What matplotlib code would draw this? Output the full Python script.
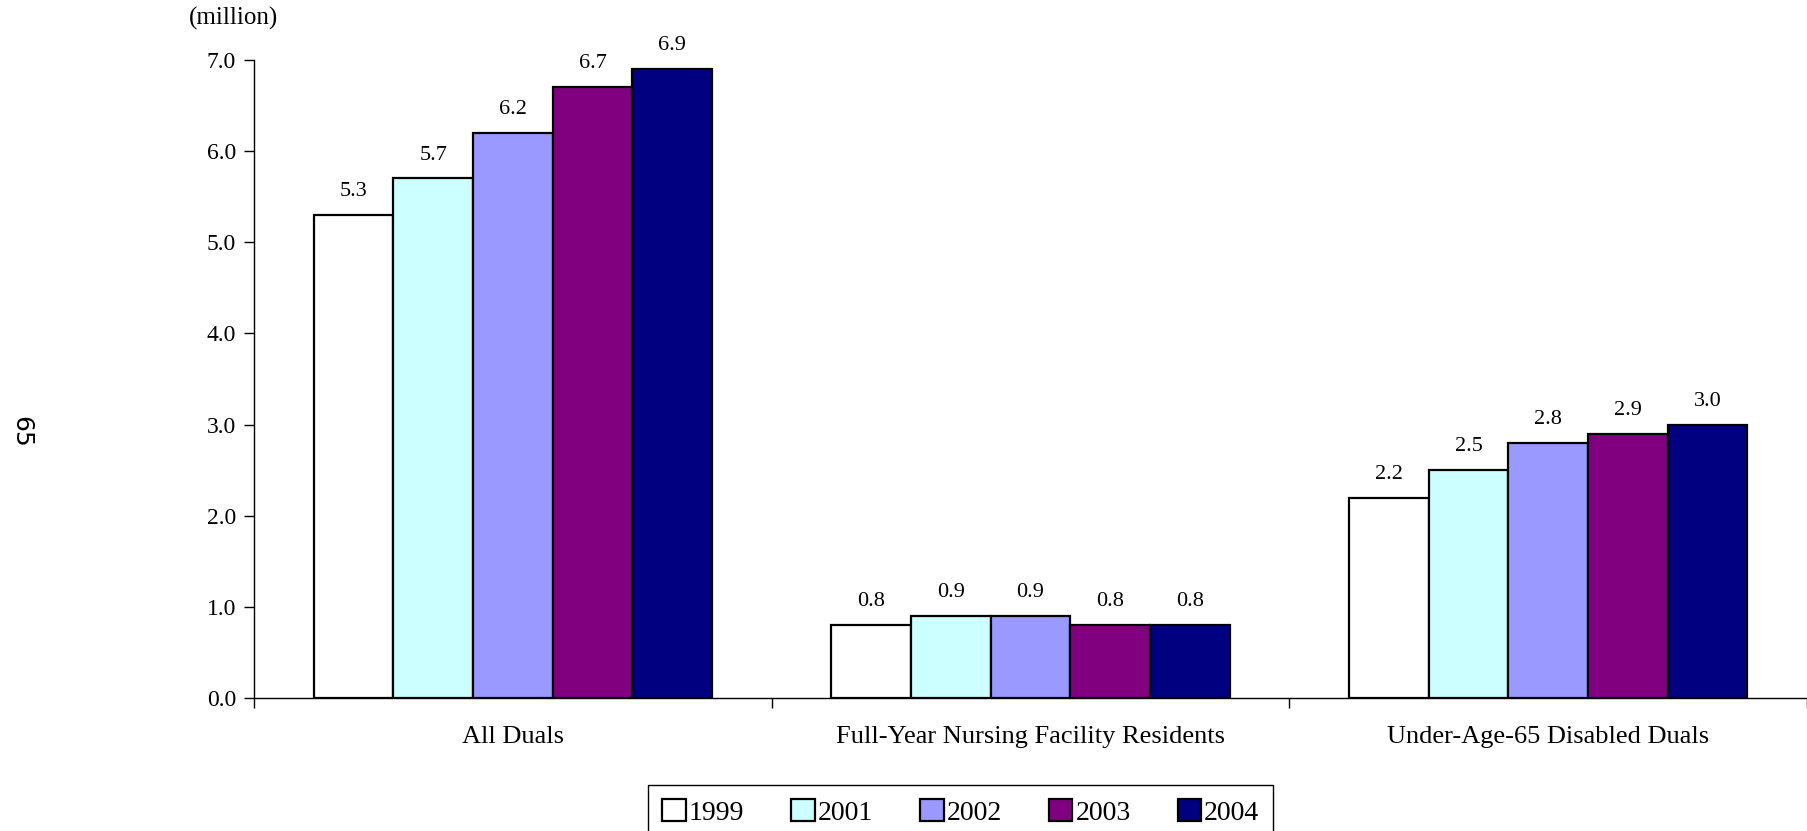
import matplotlib
matplotlib.use("Agg")
import matplotlib.pyplot as plt
import numpy as np

plt.rcParams['font.family'] = ['Liberation Serif', 'DejaVu Serif']

categories = ["All Duals", "Full-Year Nursing Facility Residents", "Under-Age-65 Disabled Duals"]
years = ["1999", "2001", "2002", "2003", "2004"]
values = {
    "1999": [5.3, 0.8, 2.2],
    "2001": [5.7, 0.9, 2.5],
    "2002": [6.2, 0.9, 2.8],
    "2003": [6.7, 0.8, 2.9],
    "2004": [6.9, 0.8, 3.0],
}
colors = ["#FFFFFF", "#CCFFFF", "#9999FF", "#800080", "#000080"]

fig = plt.figure(figsize=(18.07, 8.31), dpi=100)
ax = fig.add_axes([0.1406, 0.16, 0.8594, 0.7678])

x = np.arange(len(categories))
w = 0.154
for i, yr in enumerate(years):
    pos = x + (i - 2) * w
    bars = ax.bar(pos, values[yr], width=w, color=colors[i], edgecolor='black',
                  linewidth=1.6, label=yr)
    for b, v in zip(bars, values[yr]):
        ax.annotate(f"{v:.1f}", (b.get_x() + b.get_width() / 2, v),
                    xytext=(0, 10), textcoords='offset points',
                    ha='center', va='bottom', fontsize=16)

ax.set_xlim(-0.5, 2.5)
ax.set_ylim(0, 7)
ax.set_yticks(np.arange(0, 8, 1))
ax.set_yticklabels([f"{t:.1f}" for t in range(8)])
ax.set_xticks(x)
ax.set_xticklabels(categories)
ax.set_xticks([-0.5, 0.5, 1.5, 2.5], minor=True)
ax.tick_params(axis='x', which='major', length=0, pad=20, labelsize=19)
ax.tick_params(axis='x', which='minor', length=7, width=1)
ax.tick_params(axis='y', length=7, width=1, labelsize=17, pad=6)
for s in ['top', 'right']:
    ax.spines[s].set_visible(False)
ax.spines['left'].set_linewidth(1)
ax.spines['bottom'].set_linewidth(1)

fig.text(0.129, 0.978, "(million)", ha='center', va='center', fontsize=18)
fig.text(0.012, 0.48, "65", ha='center', va='center', fontsize=18,
         rotation=-90, family='DejaVu Sans')

leg = fig.legend(loc='upper left', bbox_to_anchor=(0.351, 0.072), ncol=5,
                 fontsize=20, handlelength=0.85, handleheight=0.85,
                 handletextpad=0.1, columnspacing=1.7, borderpad=0.5,
                 fancybox=False, edgecolor='black', framealpha=1)
leg.get_frame().set_linewidth(1)

fig.savefig("out.png", dpi=100)
